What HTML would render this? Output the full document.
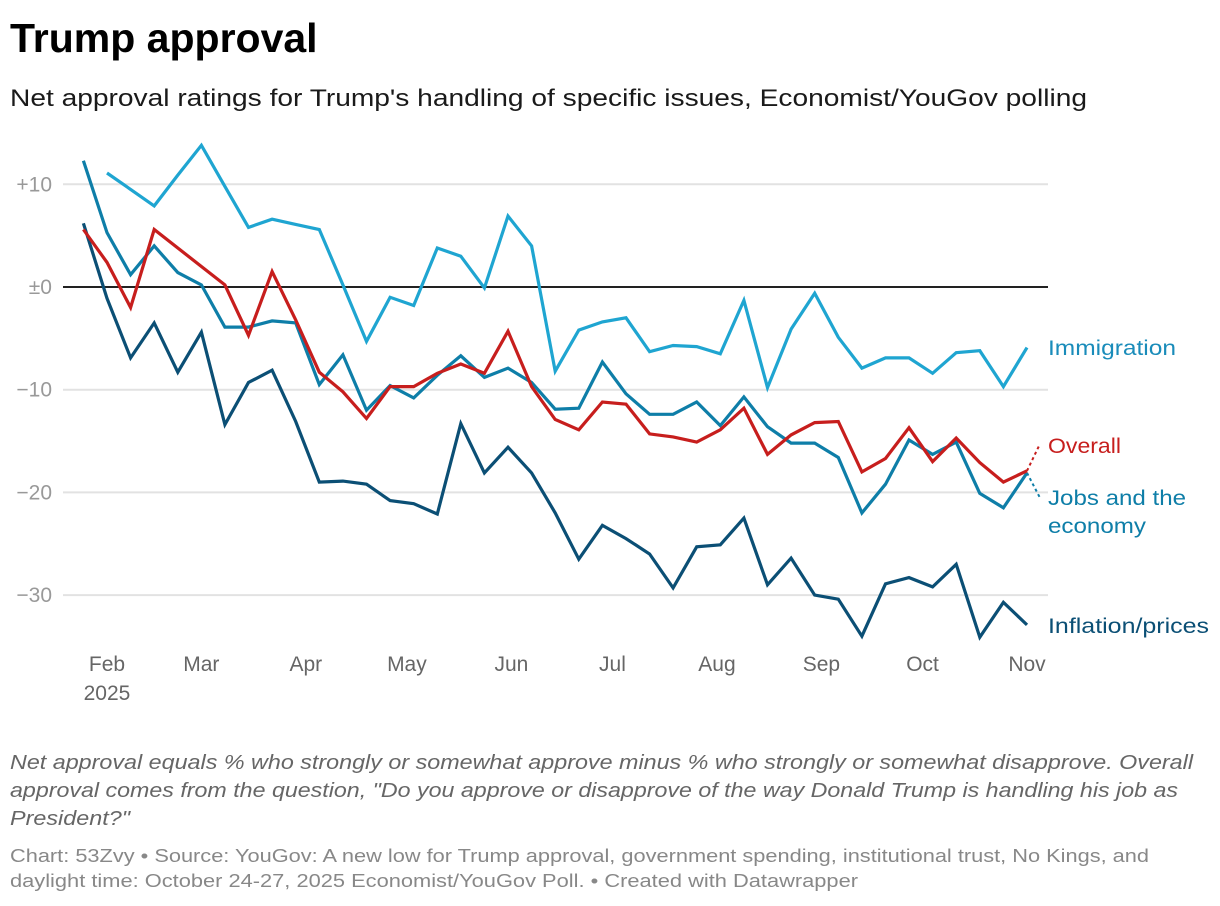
<!DOCTYPE html>
<html><head><meta charset="utf-8"><style>
body{margin:0;background:#fff;font-family:"Liberation Sans",sans-serif;}
#wrap{position:relative;width:1220px;height:906px;overflow:hidden;}
</style></head><body>
<div id="wrap">
<svg id="chart" width="1220" height="906" style="position:absolute;left:0;top:0">
<text x="10" y="52" font-size="41" font-weight="bold" fill="#000">Trump approval</text>
<text x="10" y="106" font-size="24" fill="#1a1a1a" textLength="1077" lengthAdjust="spacingAndGlyphs">Net approval ratings for Trump's handling of specific issues, Economist/YouGov polling</text>
<g id="grid"></g>
<g id="lines"></g>
<g id="labels"></g>
<g font-size="20" fill="#666" font-style="italic">
<text x="10" y="769" textLength="1183" lengthAdjust="spacingAndGlyphs">Net approval equals % who strongly or somewhat approve minus % who strongly or somewhat disapprove. Overall</text>
<text x="10" y="797" textLength="1168" lengthAdjust="spacingAndGlyphs">approval comes from the question, "Do you approve or disapprove of the way Donald Trump is handling his job as</text>
<text x="10" y="825" textLength="120" lengthAdjust="spacingAndGlyphs">President?"</text>
</g>
<g font-size="18" fill="#888">
<text x="10" y="862" textLength="1139" lengthAdjust="spacingAndGlyphs">Chart: 53Zvy • Source: YouGov: A new low for Trump approval, government spending, institutional trust, No Kings, and</text>
<text x="10" y="887" textLength="848" lengthAdjust="spacingAndGlyphs">daylight time: October 24-27, 2025 Economist/YouGov Poll. • Created with Datawrapper</text>
</g>
</svg>
</div>
<script>
const yTicks = [10, 0, -10, -20, -30];
const yTickLabels = ["+10", "±0", "−10", "−20", "−30"];
const monthLabels = ["Feb","Mar","Apr","May","Jun","Jul","Aug","Sep","Oct","Nov"];
const monthDays = [7, 35, 66, 96, 127, 157, 188, 219, 249, 280]; // days since Jan 25
const immigration = [null,11.1,9.5,7.9,10.9,13.8,9.8,5.8,6.6,6.1,5.6,0.2,-5.3,-1.0,-1.8,3.8,3.0,-0.1,6.9,4.0,-8.2,-4.2,-3.4,-3.0,-6.3,-5.7,-5.8,-6.5,-1.3,-9.8,-4.1,-0.6,-4.9,-7.9,-6.9,-6.9,-8.4,-6.4,-6.2,-9.7,-5.9];
const jobs = [12.3,5.3,1.2,4.0,1.4,0.2,-3.9,-3.9,-3.3,-3.5,-9.5,-6.6,-12.0,-9.6,-10.8,-8.6,-6.7,-8.8,-7.9,-9.3,-11.9,-11.8,-7.3,-10.4,-12.4,-12.4,-11.2,-13.5,-10.7,-13.6,-15.2,-15.2,-16.6,-22.0,-19.2,-14.9,-16.3,-15.1,-20.1,-21.5,-18.1];
const overall = [5.6,2.4,-2.0,5.6,3.8,2.0,0.2,-4.7,1.5,-3.2,-8.3,-10.2,-12.8,-9.7,-9.7,-8.4,-7.5,-8.4,-4.3,-9.7,-12.9,-13.9,-11.2,-11.4,-14.3,-14.6,-15.1,-13.9,-11.8,-16.3,-14.4,-13.2,-13.1,-18.0,-16.7,-13.7,-17.0,-14.7,-17.1,-19.0,-17.9];
const inflation = [6.2,-1.1,-6.9,-3.5,-8.3,-4.4,-13.4,-9.3,-8.1,-13.1,-19.0,-18.9,-19.2,-20.8,-21.1,-22.1,-13.3,-18.1,-15.6,-18.1,-22.0,-26.5,-23.2,-24.5,-26.0,-29.3,-25.3,-25.1,-22.5,-29.0,-26.4,-30.0,-30.4,-34.0,-28.9,-28.3,-29.2,-27.0,-34.1,-30.7,-32.9];

const NS="http://www.w3.org/2000/svg";
const xDay = d => 83.4 + d*3.37;
const xIdx = i => xDay(i*7);
const y = v => 287 - v*10.27;
function mk(tag, attrs, parent){const e=document.createElementNS(NS,tag);for(const k in attrs)e.setAttribute(k,attrs[k]);parent.appendChild(e);return e;}
const grid=document.getElementById('grid'), lines=document.getElementById('lines'), labels=document.getElementById('labels');
yTicks.forEach((t,i)=>{
  const l=mk('line',{x1:63,x2:1048,y1:y(t),y2:y(t),stroke:t===0?'#222':'#e2e2e2','stroke-width':2},grid);
  
  
  const tx=mk('text',{x:52,y:y(t)+7,'text-anchor':'end','font-size':21,fill:'#999'},grid);
  tx.textContent=yTickLabels[i];
  
  
});
monthLabels.forEach((m,i)=>{
  const tx=mk('text',{x:xDay(monthDays[i]),y:671,'text-anchor':'middle','font-size':21,fill:'#666'},grid);
  tx.textContent=m;
  
  
});
const yr=mk('text',{x:xDay(monthDays[0]),y:700,'text-anchor':'middle','font-size':21,fill:'#666'},grid);
yr.textContent='2025';



function drawLine(data,color,name){
  let d='';data.forEach((v,i)=>{if(v===null)return;d+=(d?'L':'M')+xIdx(i).toFixed(1)+','+y(v).toFixed(1);});
  const p=mk('path',{d:d,fill:'none',stroke:color,'stroke-width':3.2,'stroke-linejoin':'miter'},lines);
  
  
}
drawLine(inflation,'#0b4f75','inflation-line');
drawLine(immigration,'#1fa5d1','immigration-line');
drawLine(jobs,'#0e7ea8','jobs-line');
drawLine(overall,'#c71e1d','overall-line');

const last=jobs.length-1, lx=xIdx(last);
const c1=mk('path',{d:`M${lx},${y(overall[last])} L${lx+13},${y(overall[last])-27}`,stroke:'#c71e1d','stroke-width':2,'stroke-dasharray':'3,3',fill:'none'},labels);


const c2=mk('path',{d:`M${lx},${y(jobs[last])} L${lx+13},${y(jobs[last])+25}`,stroke:'#0e7ea8','stroke-width':2,'stroke-dasharray':'3,3',fill:'none'},labels);


function lab(txt,x0,y0,color,name,w){const t=mk('text',{x:x0,y:y0,'font-size':21,fill:color,textLength:w,lengthAdjust:'spacingAndGlyphs'},labels);t.textContent=txt;
  
  }
lab('Immigration',1048,355,'#1a8cba','immigration-label',128);
lab('Overall',1048,453,'#c71e1d','overall-label',73);
lab('Jobs and the',1048,505,'#0e7ea8','jobs-label',138);
lab('economy',1048,533,'#0e7ea8','jobs-label-line2',98);
lab('Inflation/prices',1048,633,'#0b4f75','inflation-label',161);
</script>
</body></html>
